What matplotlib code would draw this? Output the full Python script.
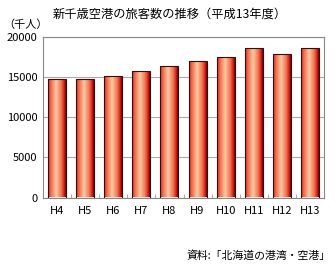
import matplotlib
matplotlib.use("Agg")
import matplotlib.pyplot as plt
import numpy as np
from matplotlib.colors import LinearSegmentedColormap

plt.rcParams['font.family'] = ['Noto Sans CJK JP', 'DejaVu Sans']

categories = ["H4", "H5", "H6", "H7", "H8", "H9", "H10", "H11", "H12", "H13"]
values = [14790, 14790, 15120, 15750, 16330, 17000, 17500, 18580, 17880, 18580]
yticks = [0, 5000, 10000, 15000, 20000]
title = "新千歳空港の旅客数の推移（平成13年度）"
unit = "（千人）"
source = "資料:「北海道の港湾・空港」"

fig = plt.figure(figsize=(3.35, 2.68), dpi=100)
ax = fig.add_axes([43/335, 1 - 197.5/268, (324-43)/335, (197.5-37)/268])

cmap = LinearSegmentedColormap.from_list("barg", [
    (0.0, "#e0201a"), (0.15, "#f06848"), (0.45, "#fbcaa2"),
    (0.75, "#f27050"), (0.92, "#d01810"), (1.0, "#700000")])
grad = np.linspace(0, 1, 64).reshape(1, -1)

x = np.arange(len(categories))
bars = ax.bar(x, values, width=0.64, color="none", edgecolor="#301010", linewidth=0.8, zorder=3)
for b in bars:
    x0, y0 = b.get_x(), b.get_y()
    w, h = b.get_width(), b.get_height()
    im = ax.imshow(grad, cmap=cmap, aspect="auto", extent=[x0, x0 + w, y0, y0 + h],
                   zorder=2, interpolation="bilinear")
    im.set_clip_path(b)

ax.set_xlim(-0.5, len(categories) - 0.5)
ax.set_ylim(0, 20000)
ax.set_yticks(yticks)
ax.set_yticklabels([str(v) for v in yticks], fontsize=8)
ax.set_xticks(x)
ax.set_xticklabels(categories, fontsize=8)
ax.tick_params(axis="both", length=0, pad=6)
ax.tick_params(axis="y", pad=4)
ax.set_xticks(np.arange(len(categories) + 1) - 0.5, minor=True)
ax.tick_params(axis="x", which="minor", direction="in", length=3, color="#999999")
ax.yaxis.grid(True, color="#aaaaaa", linewidth=0.8, zorder=0)
ax.set_axisbelow(True)
for s in ax.spines.values():
    s.set_color("#888888")
    s.set_linewidth(0.8)

fig.text(170/335, 1 - 14/268, title, ha="center", va="center", fontsize=8.8)
fig.text(3/335, 1 - 25/268, unit, ha="left", va="center", fontsize=8)
fig.text(331/335, 1 - 256/268, source, ha="right", va="center", fontsize=7.8)

fig.savefig("out.png", dpi=100)
